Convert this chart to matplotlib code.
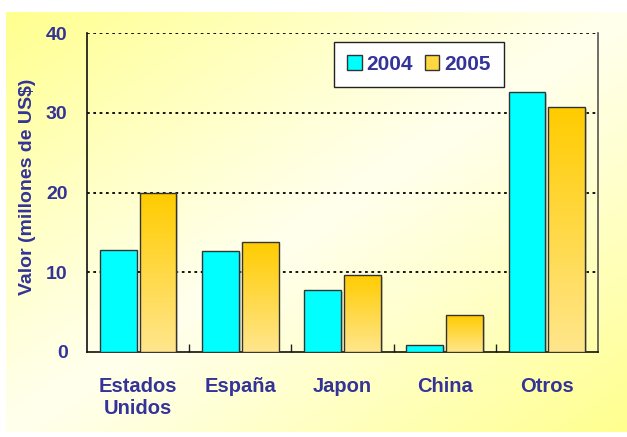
import numpy as np
import matplotlib
matplotlib.use('Agg')
import matplotlib.pyplot as plt
from matplotlib.patches import Patch
from matplotlib.colors import LinearSegmentedColormap

# ========== data ==========
categories = ['Estados\nUnidos', 'España', 'Japon', 'China', 'Otros']
valores_2004 = [12.8, 12.7, 7.8, 0.9, 32.6]
valores_2005 = [19.9, 13.8, 9.7, 4.6, 30.7]
series_labels = ['2004', '2005']
y_ticks = [0, 10, 20, 30, 40]
y_label = 'Valor (millones de US$)'
# ==========================

TXT = '#333399'
CYAN = '#00FFFF'
plt.rcParams['font.family'] = ['Liberation Sans', 'DejaVu Sans']

fig = plt.figure(figsize=(6.27, 4.37), dpi=100)
fig.patch.set_facecolor('white')

# fondo degradado amarillo
bg = fig.add_axes([6 / 627, 5 / 437, 621 / 627, 420 / 437], zorder=-10)
gx, gy = np.meshgrid(np.linspace(0, 1, 300), np.linspace(0, 1, 200))
d = np.abs(gx + gy - 1.0) ** 1.1
pale = np.array([1.0, 1.0, 0.93])
yel = np.array([1.0, 1.0, 0.56])
img = pale[None, None, :] + (yel - pale)[None, None, :] * d[..., None]
bg.imshow(img, aspect='auto', origin='upper', extent=[0, 1, 0, 1])
bg.axis('off')

ax = fig.add_axes([87 / 627, 1 - 352 / 437, 511 / 627, 319 / 437])
ax.patch.set_alpha(0)

x = np.arange(len(categories))
w = 0.36
gap = 0.015
gold_cmap = LinearSegmentedColormap.from_list('gold', ['#FFE68C', '#FFCC00'])

def shadow(xc, h):
    ax.bar(xc + 0.018, h, w, bottom=-0.25, color='#9a9a80', alpha=0.45,
           linewidth=0, zorder=2)

for i in range(len(categories)):
    xa = x[i] - w / 2 - gap
    xb = x[i] + w / 2 + gap
    shadow(xa, valores_2004[i])
    shadow(xb, valores_2005[i])
    ax.bar(xa, valores_2004[i], w, color=CYAN, edgecolor='#333333',
           linewidth=1, zorder=3)
    b = ax.bar(xb, valores_2005[i], w, color='none', edgecolor='#333333',
               linewidth=1, zorder=4)[0]
    grad = np.linspace(0, 1, 100).reshape(-1, 1)
    im = ax.imshow(grad, cmap=gold_cmap, aspect='auto', origin='lower',
                   extent=[xb - w / 2, xb + w / 2, 0, valores_2005[i]], zorder=3)
    im.set_clip_path(b)

ax.set_xlim(-0.5, len(categories) - 0.5)
ax.set_ylim(0, 40)
ax.set_yticks(y_ticks)
ax.set_yticklabels([str(t) for t in y_ticks], fontsize=14, fontweight='bold', color=TXT)
ax.tick_params(axis='y', length=0, pad=14)

ax.set_xticks(x)
ax.set_xticklabels(categories, fontsize=14.5, fontweight='bold', color=TXT)
ax.tick_params(axis='x', which='major', length=0, pad=18)
ax.set_xticks(np.arange(0.5, len(categories) - 0.5, 1), minor=True)
ax.tick_params(axis='x', which='minor', direction='in', length=6, width=1, color='#222222')

for t in y_ticks[1:]:
    ax.axhline(t, color='black', linestyle=(0, (1.5, 2.0)), linewidth=1.3, zorder=1)

ax.spines['top'].set_visible(False)
ax.spines['left'].set_color('#111111')
ax.spines['bottom'].set_color('#111111')
ax.spines['right'].set_color('#555555')
for s in ['left', 'bottom', 'right']:
    ax.spines[s].set_linewidth(1.2)

fig.text(28 / 627, 1 - 187 / 437, y_label, rotation=90, ha='center', va='center',
         fontsize=14, fontweight='bold', color=TXT)

handles = [Patch(facecolor=CYAN, edgecolor='#333333', label=series_labels[0]),
           Patch(facecolor='#FFD740', edgecolor='#333333', label=series_labels[1])]
leg = ax.legend(handles=handles, ncol=2, loc='upper left',
                bbox_to_anchor=(334 / 627, 1 - 42 / 437), bbox_transform=fig.transFigure,
                borderaxespad=0, fancybox=False, frameon=True, framealpha=1,
                handlelength=0.7, handleheight=0.7, handletextpad=0.25,
                columnspacing=0.55, borderpad=0.62,
                prop={'size': 15, 'weight': 'bold'})
leg.get_frame().set_edgecolor('#222222')
leg.get_frame().set_linewidth(1.0)
for t in leg.get_texts():
    t.set_color(TXT)

fig.savefig('out.png', dpi=100)
